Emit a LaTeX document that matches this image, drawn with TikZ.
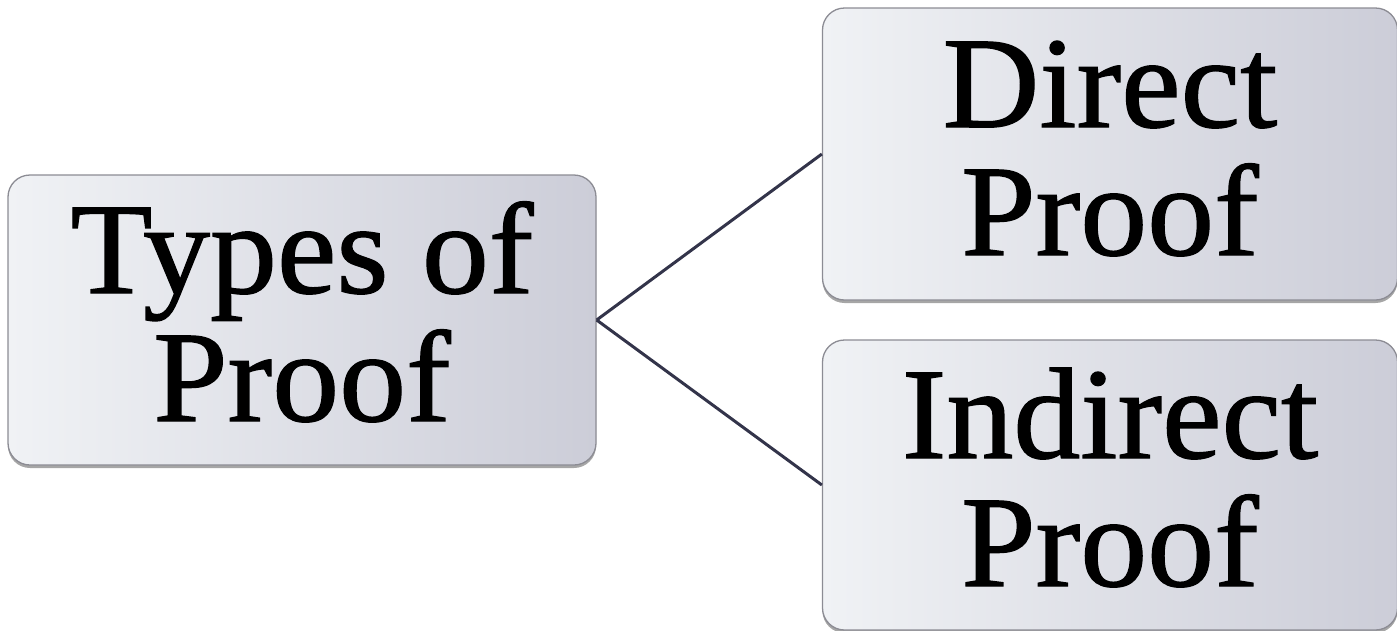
\documentclass[tikz,border=0pt]{standalone}
\usepackage{fontspec}
\setmainfont{Liberation Serif}[FakeStretch=1.03,FakeBold=1]
\usetikzlibrary{shadows}
\definecolor{boxleft}{HTML}{F0F2F5}
\definecolor{boxright}{HTML}{CCCDD8}
\definecolor{boxline}{HTML}{8C8C94}
\definecolor{linkcol}{HTML}{33344A}
\begin{document}
\begin{tikzpicture}[x=1pt,y=-1pt,
  box/.style={draw=boxline, line width=1.3pt, rounded corners=22pt,
    left color=boxleft, right color=boxright,
    drop shadow={shadow xshift=0pt, shadow yshift=-3pt, opacity=0.35, fill=black},
    align=center, inner sep=0pt, text height=214pt, text depth=12pt,
    font=\fontsize{130}{128}\selectfont},
  link/.style={draw=linkcol, line width=3pt}]
\useasboundingbox (0,0) rectangle (1397,630);
\node[box, minimum width=588pt, minimum height=290pt] (types) at (302,320) {Types of\\Proof};
\node[box, minimum width=575pt, minimum height=292pt] (direct) at (1110,154) {Direct\\Proof};
\node[box, minimum width=575pt, minimum height=290pt] (indirect) at (1110,485) {Indirect\\Proof};
\draw[link] (types.east) -- (direct.west);
\draw[link] (types.east) -- (indirect.west);
\end{tikzpicture}
\end{document}
